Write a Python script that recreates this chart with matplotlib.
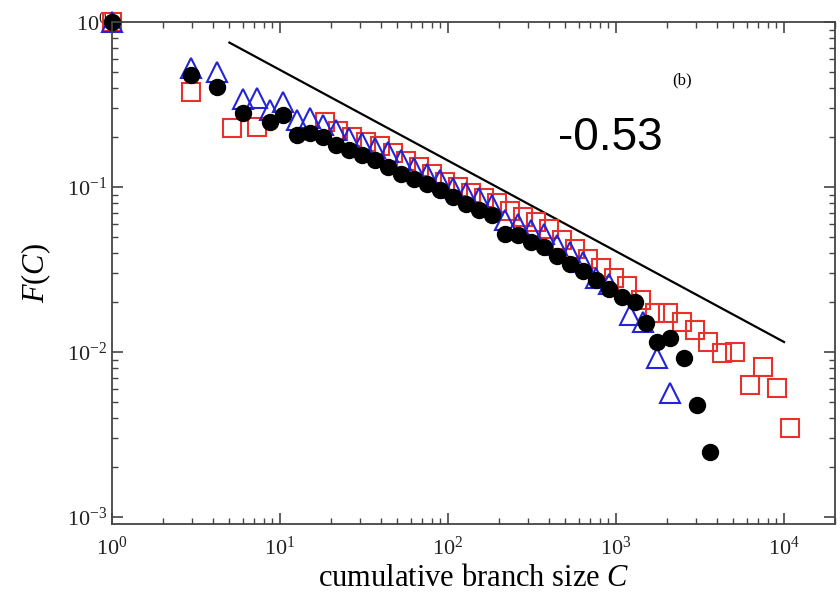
import matplotlib.pyplot as plt
import matplotlib.ticker as ticker
import numpy as np

plt.rcParams['font.family'] = ['Liberation Serif', 'DejaVu Serif']
plt.rcParams['mathtext.fontset'] = 'custom'
plt.rcParams['mathtext.rm'] = 'Liberation Serif'
plt.rcParams['mathtext.it'] = 'Liberation Serif:italic'

# %% Données

# carrés rouges
c_carre = [1, 2.95, 5.2, 7.3, 18.5, 22.2, 26.8, 32.5, 39.3, 47.0, 56.3, 67.4, 80.4,
           96.2, 115, 137, 164, 195, 233, 279, 334, 398, 476, 569, 680, 812, 970,
           1160, 1400, 1700, 2030, 2480, 2960, 3540, 4260, 5080, 6250, 7480, 9080, 10900]
f_carre = [1, 0.376, 0.228, 0.231, 0.248, 0.218, 0.201, 0.187, 0.177, 0.161, 0.144, 0.132, 0.120,
           0.107, 0.100, 0.0920, 0.0858, 0.0800, 0.0716, 0.0658, 0.0614, 0.0556, 0.0477, 0.0421,
           0.0366, 0.0323, 0.0281, 0.0251, 0.0207, 0.0172, 0.0172, 0.0152, 0.0136, 0.0115,
           0.00986, 0.0100, 0.00631, 0.00811, 0.00605, 0.00346]

# triangles bleus
c_tri = [1, 2.95, 4.2, 6.0, 7.3, 8.7, 10.4, 12.6, 15.1, 18.0, 21.5, 25.7, 30.8, 36.8, 43.9,
         52.5, 62.8, 75.0, 89.6, 107, 128, 153, 183, 218, 261, 312, 373, 445, 532, 636,
         760, 908, 1210, 1450, 1750, 2085]
f_tri = [1, 0.526, 0.498, 0.341, 0.346, 0.293, 0.327, 0.255, 0.262, 0.238, 0.222, 0.198, 0.185,
         0.172, 0.163, 0.146, 0.130, 0.120, 0.110, 0.0986, 0.0920, 0.0858, 0.0778, 0.0631,
         0.0597, 0.0549, 0.0519, 0.0445, 0.0404, 0.0351, 0.0281, 0.0258, 0.0168, 0.0152,
         0.0092, 0.00565]

# ronds noirs
c_rond = [1, 2.95, 4.2, 6.0, 8.7, 10.4, 12.6, 15.1, 18.0, 21.5, 25.7, 30.8, 36.8, 43.9, 52.5,
          62.8, 75.0, 89.6, 107, 128, 153, 183, 218, 261, 312, 373, 445, 532, 636, 760,
          908, 1086, 1297, 1500, 1750, 2085, 2540, 3030, 3610]
f_rond = [1, 0.477, 0.404, 0.281, 0.248, 0.273, 0.207, 0.212, 0.201, 0.180, 0.168, 0.156,
          0.146, 0.132, 0.120, 0.112, 0.104, 0.0959, 0.0869, 0.0788, 0.0726, 0.0677, 0.0519,
          0.0512, 0.0464, 0.0433, 0.0382, 0.0341, 0.0310, 0.0273, 0.0241, 0.0215, 0.0201,
          0.0150, 0.0115, 0.0122, 0.0092, 0.00477, 0.00248]

# droite de pente -0.53
c_droite = [5, 1.0e4]
f_droite = [0.75, 0.0115]

# %% Figure

fig = plt.figure(figsize=(8.4, 5.99), dpi=100)
ax = fig.add_axes([0.1333, 0.1252, 0.8607, 0.8381])

ax.plot(c_droite, f_droite, color='black', lw=1.6)
ax.plot(c_carre, f_carre, 's', ms=13.5, mfc='none', mec='#e8312a', mew=1.5, clip_on=False)
ax.plot(c_tri, f_tri, '^', ms=14, mfc='none', mec='#2323d8', mew=1.5, clip_on=False)
ax.plot(c_rond, f_rond, 'o', ms=11.5, color='black', clip_on=False)

ax.set_xscale('log')
ax.set_yscale('log')
ax.set_xlim(1, 2.01e4)
ax.set_ylim(9.07e-4, 1)

fmt = ticker.FuncFormatter(lambda v, p: r'$10^{%d}$' % round(np.log10(v)))
ax.xaxis.set_major_formatter(fmt)
ax.yaxis.set_major_formatter(fmt)
ax.xaxis.set_major_locator(ticker.LogLocator(base=10, numticks=10))
ax.yaxis.set_major_locator(ticker.LogLocator(base=10, numticks=10))
ax.xaxis.set_minor_locator(ticker.LogLocator(base=10, subs=np.arange(2, 10), numticks=20))
ax.yaxis.set_minor_locator(ticker.LogLocator(base=10, subs=np.arange(2, 10), numticks=20))
ax.xaxis.set_minor_formatter(ticker.NullFormatter())
ax.yaxis.set_minor_formatter(ticker.NullFormatter())

ax.tick_params(which='both', direction='in', top=True, right=True, labelsize=16,
               color='#444444', labelcolor='#222222')
ax.tick_params(which='major', length=8, width=1.2)
ax.tick_params(which='minor', length=4, width=1.0)
ax.tick_params(axis='x', pad=9)
for s in ax.spines.values():
    s.set_linewidth(1.3)
    s.set_color('#444444')

ax.set_xlabel('cumulative branch size $C$', fontsize=22, labelpad=3)
ax.set_ylabel('$F(C)$', fontsize=22, labelpad=10)

ax.text(0.689, 0.768, '-0.53', transform=ax.transAxes, fontsize=33,
        family='Liberation Sans', ha='center', va='center')
ax.text(0.788, 0.884, '(b)', transform=ax.transAxes, fontsize=12, ha='center', va='center')

plt.savefig('out.png', dpi=100)
